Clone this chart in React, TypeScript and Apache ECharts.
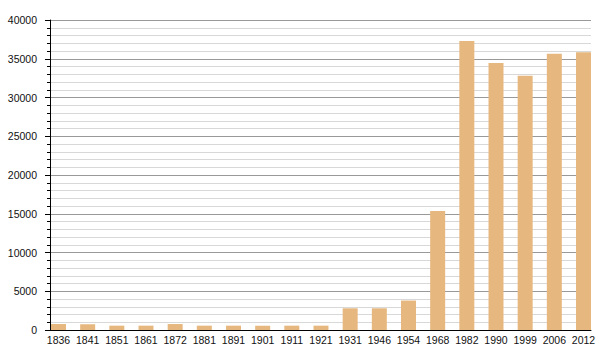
import React, { useEffect, useRef } from "react";
import * as echarts from "echarts";

const years = ["1836","1841","1851","1861","1872","1881","1891","1901","1911","1921","1931","1946","1954","1968","1982","1990","1999","2006","2012"];
const population = [770, 740, 560, 560, 770, 560, 560, 560, 560, 560, 2800, 2800, 3800, 15350, 37300, 34450, 32800, 35650, 35830];
const yMax = 40000;
const yStep = 5000;

export default function App() {
  const ref = useRef<HTMLDivElement>(null);
  useEffect(() => {
    const chart = echarts.init(ref.current!, null, { renderer: "svg" });
    const font = "Liberation Sans";
    chart.setOption({
      animation: false,
      grid: [
        { left: 50, right: 9, top: 20, bottom: 30 },
        { left: 58.5, right: 16.5, top: 20, bottom: 30 },
      ],
      xAxis: [
        {
          gridIndex: 0,
          type: "category",
          data: years,
          axisLine: { show: true, lineStyle: { color: "#000", width: 1 } },
          axisTick: { show: false },
          axisLabel: { show: false },
          splitLine: { show: false },
        },
        {
          gridIndex: 1,
          type: "category",
          data: years,
          boundaryGap: false,
          axisLine: { show: false },
          axisTick: { show: false },
          axisLabel: { fontSize: 10.5, color: "#111", fontFamily: font, margin: 4, interval: 0 },
          splitLine: { show: false },
        },
      ],
      yAxis: [
        {
          gridIndex: 0,
          type: "value",
          min: 0,
          max: yMax,
          interval: yStep,
          axisLine: { show: true, lineStyle: { color: "#000", width: 1 } },
          axisTick: { show: true, length: 5, lineStyle: { color: "#000" } },
          minorTick: { show: true, splitNumber: 5, length: 3, lineStyle: { color: "#000" } },
          axisLabel: {
            fontSize: 10.5,
            color: "#111",
            fontFamily: font,
            margin: 13,
            formatter: (v: number) => String(v),
          },
          splitLine: { show: true, lineStyle: { color: "#999", width: 1 } },
          minorSplitLine: { show: true, lineStyle: { color: "#d8d8d8", width: 1 } },
        },
        {
          gridIndex: 1,
          type: "value",
          min: 0,
          max: yMax,
          show: false,
          splitLine: { show: false },
        },
      ],
      series: [
        {
          type: "bar",
          xAxisIndex: 1,
          yAxisIndex: 1,
          data: population,
          barWidth: 15,
          itemStyle: { color: "#E6B87F" },
        },
      ],
    });
    return () => chart.dispose();
  }, []);
  return (
    <div
      ref={ref}
      style={{ position: "absolute", left: 0, top: 0, width: 600, height: 360 }}
    />
  );
}
